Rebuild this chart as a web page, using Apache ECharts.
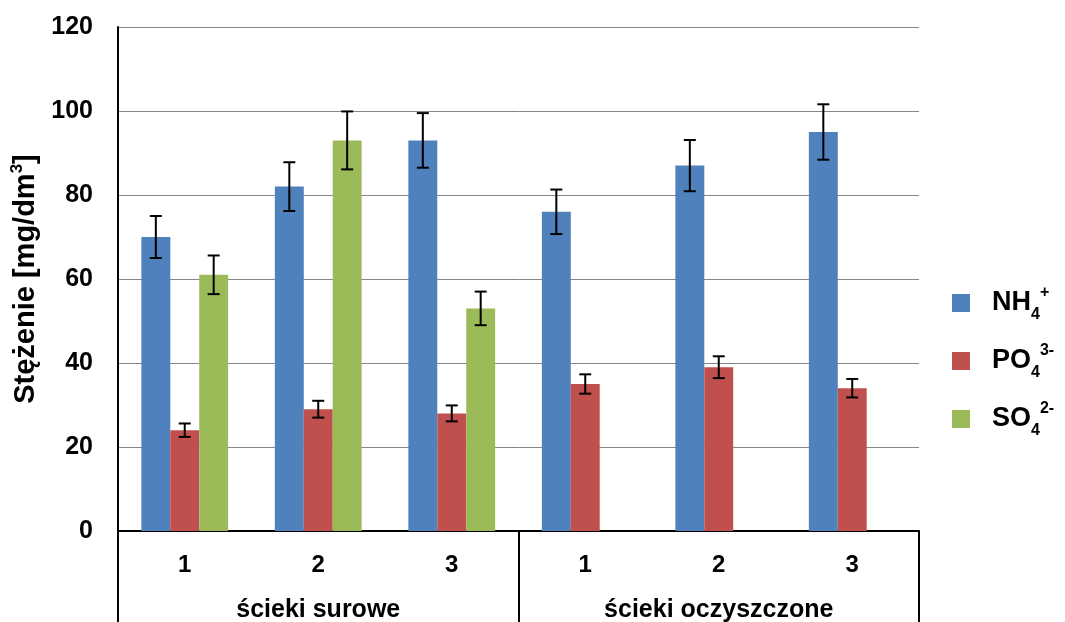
<!DOCTYPE html>
<html>
<head>
<meta charset="utf-8">
<script src="https://cdn.jsdelivr.net/npm/echarts@6/dist/echarts.min.js"></script>
<style>
    html, body { margin: 0; padding: 0; background: #fff; }
    #chart { width: 1065px; height: 622px; }
</style>
</head>
<body>
<div id="chart"></div>
<script>
    // dane
    const categories = ['1', '2', '3', '1', '2', '3'];
    const groups = ['ścieki surowe', 'ścieki oczyszczone'];
    const seriesNames = ['NH4+', 'PO43-', 'SO42-'];
    const nh4 = [70, 82, 93, 76, 87, 95];
    const nh4Err = [5, 5.8, 6.5, 5.3, 6.1, 6.6];
    const po4 = [24, 29, 28, 35, 39, 34];
    const po4Err = [1.6, 2, 1.9, 2.3, 2.6, 2.2];
    const so4 = [61, 93, 53, null, null, null];
    const so4Err = [4.6, 6.9, 4, null, null, null];

    const colors = ['#4F81BD', '#C0504D', '#9BBB59'];
    const font = 'Liberation Sans, Arial, sans-serif';
    const gapRatio = 0.35;

    const legendRich = {
        b: { fontSize: 27, fontWeight: 'bold', fontFamily: font, color: '#000', lineHeight: 34 },
        s: { fontSize: 16, fontWeight: 'bold', fontFamily: font, color: '#000', verticalAlign: 'bottom', lineHeight: 16, padding: [0, 0, -3, 0] },
        p: { fontSize: 16, fontWeight: 'bold', fontFamily: font, color: '#000', verticalAlign: 'top', lineHeight: 16, padding: [-1, 0, 0, 0] }
    };
    const legendLabels = {
        'NH4+': '{b|NH}{s|4}{p|+}',
        'PO43-': '{b|PO}{s|4}{p|3-}',
        'SO42-': '{b|SO}{s|4}{p|2-}'
    };

    function errData(vals, errs) {
        const out = [];
        vals.forEach((v, i) => {
            if (v != null) out.push([i, v, errs[i]]);
        });
        return out;
    }

    function errSeries(k, vals, errs) {
        return {
            type: 'custom',
            xAxisIndex: 0,
            z: 5,
            silent: true,
            encode: { x: 0, y: 1 },
            data: errData(vals, errs),
            renderItem(params, api) {
                const x = api.value(0);
                const v = api.value(1);
                const e = api.value(2);
                const bandW = api.size([1, 0])[0];
                const barW = bandW * (1 - gapRatio) / 3;
                const off = (k - 1) * barW;
                const top = api.coord([x, v + e]);
                const bot = api.coord([x, v - e]);
                const cx = top[0] + off;
                const cap = 6;
                const style = { stroke: '#000', lineWidth: 2 };
                return {
                    type: 'group',
                    children: [
                        { type: 'line', shape: { x1: cx, y1: top[1], x2: cx, y2: bot[1] }, style },
                        { type: 'line', shape: { x1: cx - cap, y1: top[1], x2: cx + cap, y2: top[1] }, style },
                        { type: 'line', shape: { x1: cx - cap, y1: bot[1], x2: cx + cap, y2: bot[1] }, style }
                    ]
                };
            }
        };
    }

    const chart = echarts.init(document.getElementById('chart'));
    const option = {
        animation: false,
        color: colors,
        grid: { left: 118, right: 146, top: 27, bottom: 91, outerBoundsMode: 'none', containLabel: false },
        legend: {
            data: seriesNames,
            orient: 'vertical',
            left: 947,
            top: 280,
            itemWidth: 18,
            itemHeight: 18,
            itemGap: 20,
            icon: 'rect',
            formatter: name => legendLabels[name],
            textStyle: { rich: legendRich, padding: [0, 0, 0, 17] }
        },
        xAxis: [
            {
                type: 'category',
                data: categories,
                axisLine: { lineStyle: { color: '#000', width: 2 } },
                axisTick: { show: false },
                axisLabel: { color: '#000', fontSize: 24, fontWeight: 'bold', fontFamily: font, margin: 22 }
            },
            {
                type: 'category',
                data: groups,
                position: 'bottom',
                offset: 0,
                axisLine: { show: false },
                axisTick: { show: true, length: 100, lineStyle: { color: '#000', width: 2 } },
                axisLabel: { color: '#000', fontSize: 25, fontWeight: 'bold', fontFamily: font, margin: 67 }
            }
        ],
        yAxis: {
            type: 'value',
            min: 0,
            max: 120,
            interval: 20,
            name: '{n|Stężenie [mg/dm}{p|3}{n|]}',
            nameLocation: 'middle',
            nameGap: 73,
            nameTextStyle: {
                rich: {
                    n: { fontSize: 29, fontWeight: 'bold', fontFamily: font, color: '#000', lineHeight: 34 },
                    p: { fontSize: 17, fontWeight: 'bold', fontFamily: font, color: '#000', verticalAlign: 'top', lineHeight: 17 }
                }
            },
            axisLine: { show: true, lineStyle: { color: '#000', width: 2 } },
            axisTick: { show: false },
            axisLabel: { color: '#000', fontSize: 25, fontWeight: 'bold', fontFamily: font, margin: 25 },
            splitLine: { lineStyle: { color: '#868686', width: 1 } }
        },
        series: [
            { name: 'NH4+', type: 'bar', data: nh4, barGap: '0%', barCategoryGap: '35%' },
            { name: 'PO43-', type: 'bar', data: po4, barGap: '0%', barCategoryGap: '35%' },
            { name: 'SO42-', type: 'bar', data: so4, barGap: '0%', barCategoryGap: '35%' },
            errSeries(0, nh4, nh4Err),
            errSeries(1, po4, po4Err),
            errSeries(2, so4, so4Err)
        ]
    };
    chart.setOption(option);
</script>
</body>
</html>
